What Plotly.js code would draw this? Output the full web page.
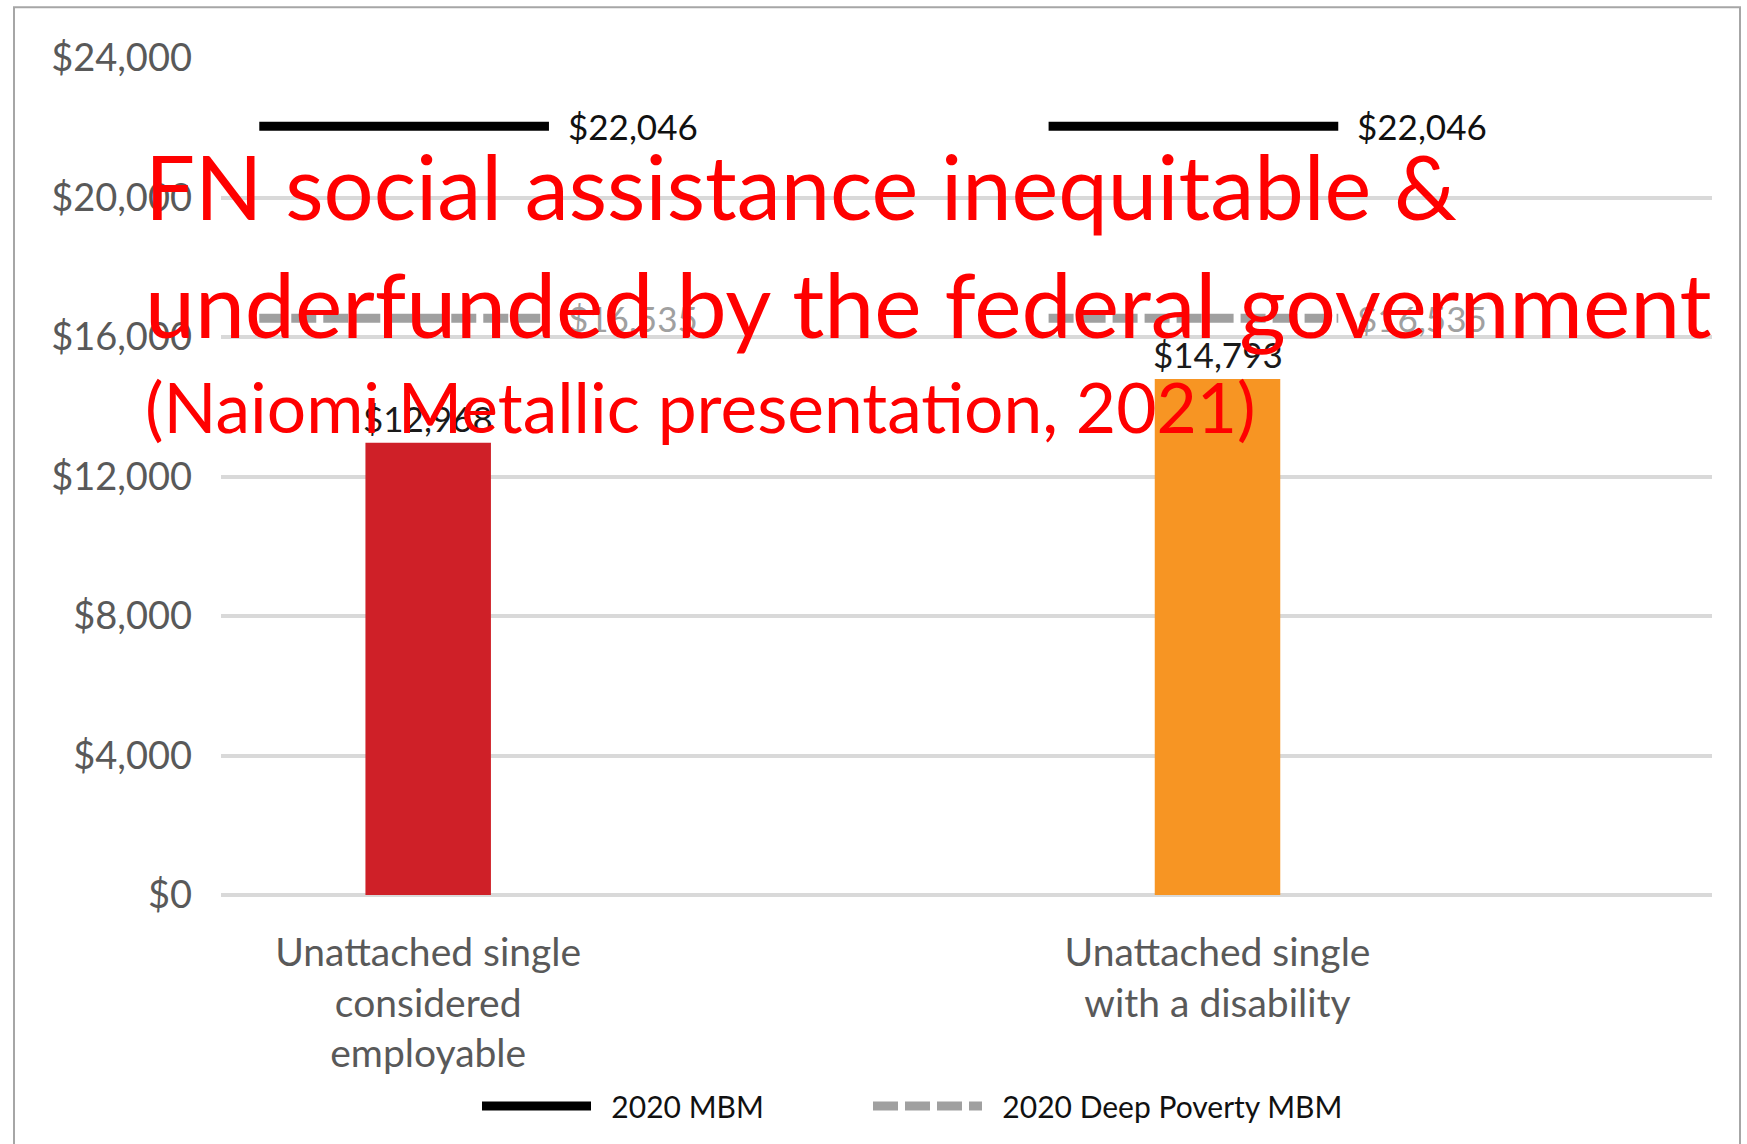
<!DOCTYPE html>
<html><head><meta charset="utf-8">
<script src="https://cdn.plot.ly/plotly-3.0.1.min.js"></script>
<style>html,body{margin:0;padding:0;background:#fff;} #chart{width:1747px;height:1144px;}</style>
</head><body><div id="chart"></div>
<script>
// ---- data ----
const categories = ["Unattached single considered employable", "Unattached single with a disability"];
const tickLabels = ["Unattached single<br>considered<br>employable", "Unattached single<br>with a disability"];
const assistance = [12968, 14793];
const barColors = ["#CF2028", "#F79523"];
const mbm2020 = [22046, 22046];
const deepPovertyMbm2020 = [16535, 16535];
const seriesNames = ["2020 MBM", "2020 Deep Poverty MBM"];
const yTicks = [0, 4000, 8000, 12000, 16000, 20000, 24000];
const yTickLabels = ["$0", "$4,000", "$8,000", "$12,000", "$16,000", "$20,000", "$24,000"];
const overlayLines = ["FN social assistance inequitable &", "underfunded by the federal government", "(Naiomi Metallic presentation, 2021)"];

// ---- geometry ----
const W = 1747, H = 1144;
const M = {l: 221, r: 35, t: 58, b: 245};
const PW = W - M.l - M.r, PH = H - M.t - M.b;
const px2x = px => (px - M.l) / PW;
const px2y = py => (H - M.b - py) / PH;
const LINE_L = -0.214, LINE_R = 0.153;
const BAR_W = 0.159;
const idx = categories.map((_, i) => i);
const fmt = v => "$" + v.toLocaleString("en-US");

function segTrace(vals) {
  const x = [], y = [];
  idx.forEach(i => { x.push(i + LINE_L, i + LINE_R, null); y.push(vals[i], vals[i], null); });
  return {x, y};
}
const mbmSeg = segTrace(mbm2020);
const deepSeg = segTrace(deepPovertyMbm2020);
const NB = "\u00a0\u00a0";

const traces = [
  {type: "bar", x: idx, y: assistance, width: BAR_W, marker: {color: barColors},
   showlegend: false, hoverinfo: "skip", name: "Assistance"},
  {type: "scatter", mode: "lines", x: mbmSeg.x, y: mbmSeg.y, name: NB + seriesNames[0], legend: "legend",
   line: {color: "#000000", width: 9}, connectgaps: false},
  {type: "scatter", mode: "lines", x: deepSeg.x, y: deepSeg.y, name: NB + seriesNames[1], legend: "legend2",
   line: {color: "#a0a0a0", width: 9, dash: "25px,7px"}, connectgaps: false}
];

const annotations = [];
idx.forEach(i => {
  annotations.push({x: i, y: assistance[i], xref: "x", yref: "y", text: fmt(assistance[i]),
    showarrow: false, yanchor: "bottom", yshift: 2, font: {family: "Lato", size: 35, color: "#1a1a1a"}});
  annotations.push({x: i + LINE_R, y: mbm2020[i], xref: "x", yref: "y", text: fmt(mbm2020[i]),
    showarrow: false, xanchor: "left", yanchor: "middle", xshift: 17, font: {family: "Lato", size: 35, color: "#111111"}});
  annotations.push({x: i + LINE_R, y: deepPovertyMbm2020[i], xref: "x", yref: "y", text: fmt(deepPovertyMbm2020[i]),
    showarrow: false, xanchor: "left", yanchor: "middle", xshift: 17, font: {family: "Lato", size: 35, color: "#a0a0a0"}});
});
const overlaySizes = [88.5, 89.5, 69.5];
const overlayCenters = [187, 305, 408];
overlayLines.forEach((t, k) => {
  annotations.push({x: px2x(143), y: px2y(overlayCenters[k]), xref: "paper", yref: "paper", text: t,
    showarrow: false, xanchor: "left", yanchor: "middle",
    font: {family: "Lato", size: overlaySizes[k], color: "#ff0000"}});
});

const legendBase = {orientation: "h", xanchor: "left", y: px2y(1111), yanchor: "middle", itemwidth: 109,
  font: {family: "Lato", size: 30, color: "#111111"}, bgcolor: "rgba(0,0,0,0)"};

const layout = {
  width: W, height: H,
  margin: M,
  paper_bgcolor: "#ffffff", plot_bgcolor: "#ffffff",
  font: {family: "Lato", color: "#595959"},
  showlegend: true,
  legend: Object.assign({}, legendBase, {x: px2x(477)}),
  legend2: Object.assign({}, legendBase, {x: px2x(868)}),
  xaxis: {range: [-0.2625, 1.6265], tickvals: idx, ticktext: tickLabels, showgrid: false,
    zeroline: false, showline: false, ticks: "", ticklabelstandoff: 31,
    tickfont: {family: "Lato", size: 39, color: "#595959"}, fixedrange: true},
  yaxis: {range: [0, 24000], tickvals: yTicks, ticktext: yTickLabels,
    showgrid: true, gridcolor: "#d9d9d9", gridwidth: 4,
    zeroline: true, zerolinecolor: "#d9d9d9", zerolinewidth: 4, showline: false, ticks: "",
    ticklabelstandoff: 28, tickfont: {family: "Lato", size: 38, color: "#595959"}, fixedrange: true},
  shapes: [{type: "rect", xref: "paper", yref: "paper", x0: px2x(14), x1: px2x(1740), y0: px2y(1160), y1: px2y(7),
    line: {color: "#a6a6a6", width: 2}, fillcolor: "rgba(0,0,0,0)", layer: "below"}],
  annotations: annotations
};

Plotly.newPlot("chart", traces, layout, {displayModeBar: false, staticPlot: true});
</script>
</body></html>
